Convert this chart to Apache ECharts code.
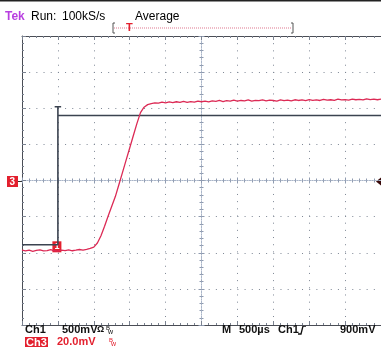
<!DOCTYPE html>
<html><head><meta charset="utf-8">
<script src="https://cdn.jsdelivr.net/npm/echarts@6/dist/echarts.min.js"></script>
<style>html,body{margin:0;padding:0;background:#fff}#c{width:381px;height:347px}</style>
</head><body><div id="c"></div>
<script>
// Time in microseconds relative to screen centre (500 us/div, 10 div)
const ch3Times = [-2500,-2450,-2400,-2350,-2300,-2250,-2200,-2150,-2100,-2050,-2000,-1950,-1900,-1850,-1800,-1750,-1700,-1650,-1600,-1550,-1500,-1450,-1400,-1350,-1300,-1250,-1200,-1150,-1100,-1050,-1000,-950,-900,-850,-800,-750,-700,-650,-600,-550,-500,-450,-400,-350,-300,-250,-200,-150,-100,-50,0,50,100,150,200,250,300,350,400,450,500,550,600,650,700,750,800,850,900,950,1000,1050,1100,1150,1200,1250,1300,1350,1400,1450,1500,1550,1600,1650,1700,1750,1800,1850,1900,1950,2000,2050,2100,2150,2200,2250,2300,2350,2400,2450,2500];
// Ch3 in mV (20 mV/div)
const ch3Values = [-38.5,-39.0,-38.6,-39.2,-38.7,-38.4,-39.0,-38.8,-38.3,-38.9,-39.1,-38.6,-38.8,-38.4,-38.9,-38.6,-38.2,-38.5,-38.1,-37.6,-36.9,-34.6,-30.6,-25.3,-19.7,-14.3,-8.9,-2.2,4.5,11.3,18.0,24.8,31.5,37.6,40.6,42.0,42.6,43.0,42.8,43.4,43.0,43.5,43.1,43.6,43.3,43.8,43.2,43.7,43.4,44.0,43.6,43.9,43.5,44.1,43.8,44.3,43.7,44.2,44.0,44.5,43.9,44.3,44.1,44.6,44.0,44.4,44.2,44.7,44.1,44.5,44.3,44.0,44.6,44.2,44.5,44.1,44.7,44.3,44.6,44.2,44.8,44.4,44.6,44.3,44.9,44.5,44.7,44.4,45.0,44.6,44.8,44.5,45.1,44.7,44.9,44.6,45.2,44.8,45.0,44.7,45.1];
// Ch1 in V (500 mV/div)
const ch1Times = [-2500,-2000,-2000,-2000,2500];
const ch1Values = [-0.89,-0.89,1.02,0.90,0.90];
const ch1CapTimes = [-2045,-1955];
const ch1CapValues = [1.02,1.02];

const headerTexts = ['Tek','Run:','100kS/s','Average'];
const footerRow1 = ['Ch1','500mV','Ω','M','500µs','Ch1','900mV'];
const footerRow2 = ['Ch3','20.0mV'];

const zip = (a,b)=>a.map((v,i)=>[v,b[i]]);
const chart = echarts.init(document.getElementById('c'), null, {renderer:'canvas'});
const dot = {color:'#7d8694', width:1, type:[1,6.18]};
const tickCol = '#7a8290';
function xAx(extra){return Object.assign({type:'value',min:-2500,max:2500,interval:500,gridIndex:0,
  axisLabel:{show:false},splitLine:{show:false},axisTick:{show:false},minorTick:{show:false},axisLine:{show:false}},extra);}
function yAx(extra){return Object.assign({type:'value',min:-80,max:80,interval:20,gridIndex:0,
  axisLabel:{show:false},splitLine:{show:false},axisTick:{show:false},minorTick:{show:false},axisLine:{show:false}},extra);}
const border = {show:true,onZero:false,lineStyle:{color:'#4a4d55',width:1}};
const centre = {show:true,onZero:true,onZeroAxisIndex:0,lineStyle:{color:'#a9b5c8',width:1,type:[1,1.5]}};

const F = '"Liberation Sans", Arial, sans-serif';
function txt(x,y,t,fill,font){return {type:'text',x:x,y:y,style:{text:t,fill:fill,font:font,verticalAlign:'middle'},z:100};}

const option = {
  animation:false,
  backgroundColor:'#fff',
  grid:{left:22,top:36,width:359,height:289,containLabel:false},
  xAxis:[
    xAx({position:'bottom',axisLine:border,axisTick:{show:true,inside:true,length:4,lineStyle:{color:tickCol}},minorTick:{show:true,splitNumber:5,length:2,lineStyle:{color:tickCol}},splitLine:{show:true,lineStyle:dot}}),
    xAx({position:'top',axisLine:border,axisTick:{show:true,inside:true,length:4,lineStyle:{color:tickCol}},minorTick:{show:true,splitNumber:5,length:2,lineStyle:{color:tickCol}}}),
    xAx({position:'bottom',axisLine:centre,axisTick:{show:true,inside:false,length:3,lineStyle:{color:'#8f9bb0'}},minorTick:{show:true,splitNumber:5,length:2,lineStyle:{color:'#8f9bb0'}}}),
    xAx({position:'bottom',axisLine:centre,axisTick:{show:true,inside:true,length:3,lineStyle:{color:'#8f9bb0'}},minorTick:{show:true,splitNumber:5,length:2,lineStyle:{color:'#8f9bb0'}}})
  ],
  yAxis:[
    yAx({position:'left',axisLine:border,axisTick:{show:true,inside:true,length:4,lineStyle:{color:tickCol}},minorTick:{show:true,splitNumber:5,length:2,lineStyle:{color:tickCol}},splitLine:{show:true,lineStyle:dot}}),
    yAx({min:-2,max:2,interval:0.5,show:false}),
    yAx({position:'left',axisLine:centre,axisTick:{show:true,inside:false,length:3,lineStyle:{color:'#8f9bb0'}},minorTick:{show:true,splitNumber:5,length:2,lineStyle:{color:'#8f9bb0'}}}),
    yAx({position:'left',axisLine:centre,axisTick:{show:true,inside:true,length:3,lineStyle:{color:'#8f9bb0'}},minorTick:{show:true,splitNumber:5,length:2,lineStyle:{color:'#8f9bb0'}}})
  ],
  series:[
    {name:'Ch1',type:'line',xAxisIndex:0,yAxisIndex:1,data:zip(ch1Times,ch1Values),showSymbol:false,silent:true,
      lineStyle:{color:'#3b4350',width:1.6},z:5,
      markPoint:{symbol:'rect',symbolSize:[9,11],symbolOffset:[-1,2],silent:true,
        itemStyle:{color:'#e3202e'},
        label:{show:true,formatter:'1',color:'#fff',fontSize:9,fontWeight:'bold',fontFamily:F},
        data:[{coord:[ch1Times[1],ch1Values[1]]}]}},
    {name:'Ch1cap',type:'line',xAxisIndex:0,yAxisIndex:1,data:zip(ch1CapTimes,ch1CapValues),showSymbol:false,silent:true,
      lineStyle:{color:'#3b4350',width:1.6},z:5},
    {name:'Ch3',type:'line',xAxisIndex:0,yAxisIndex:0,data:zip(ch3Times,ch3Values),showSymbol:false,silent:true,
      lineStyle:{color:'#dc2a55',width:1.3},z:6}
  ],
  graphic:[
    {type:'rect',shape:{x:0,y:0,width:381,height:1.5},style:{fill:'#222'}},
    txt(5,17,headerTexts[0],'#b83fe0','bold 12px '+F),
    txt(31,17,headerTexts[1],'#000','12px '+F),
    txt(62,17,headerTexts[2],'#000','12px '+F),
    txt(135,17,headerTexts[3],'#000','12px '+F),
    // record bracket
    {type:'line',shape:{x1:114,y1:28,x2:292,y2:28},style:{stroke:'#e07890',lineWidth:1,lineDash:[1,1]}},
    {type:'polyline',shape:{points:[[115,23],[113,23],[113,33],[115,33]]},style:{stroke:'#555',lineWidth:1,fill:null}},
    {type:'polyline',shape:{points:[[291,23],[293,23],[293,33],[291,33]]},style:{stroke:'#555',lineWidth:1,fill:null}},
    txt(126,28,'T','#e3202e','bold 11px '+F),
    // left Ch3 ground marker
    {type:'rect',shape:{x:7,y:176,width:11,height:11},style:{fill:'#e3202e'}},
    txt(9.5,182,'3','#fff','bold 10px '+F),
    {type:'line',shape:{x1:18,y1:181.5,x2:22,y2:181.5},style:{stroke:'#333',lineWidth:1}},
    // right trigger arrow
    {type:'polygon',shape:{points:[[376,181.5],[381,177.5],[381,185.5]]},style:{fill:'#3a0a0a'}},
    // footer
    txt(25,330,footerRow1[0],'#111','bold 11px '+F),
    txt(62,330,footerRow1[1],'#111','bold 11px '+F),
    txt(97,330,footerRow1[2],'#111','bold 9px '+F),
    txt(106,328,'B','#111','6px '+F),
    txt(108,332,'w','#111','7px '+F),
    txt(222,330,footerRow1[3],'#111','bold 11px '+F),
    txt(239,330,footerRow1[4],'#111','bold 11px '+F),
    txt(278,330,footerRow1[5],'#111','bold 11px '+F),
    {type:'polyline',shape:{points:[[298,334],[301,334],[303,326],[306,326]]},style:{stroke:'#111',lineWidth:1.3,fill:null}},
    txt(340,330,footerRow1[6],'#111','bold 11px '+F),
    {type:'rect',shape:{x:25,y:337,width:23,height:10},style:{fill:'#e3202e'}},
    txt(26,342.5,footerRow2[0],'#fff','bold 11px '+F),
    txt(57,342,footerRow2[1],'#e3202e','bold 11px '+F),
    txt(109,340,'B','#e3202e','6px '+F),
    txt(111,344,'w','#e3202e','7px '+F)
  ]
};
chart.setOption(option);
</script></body></html>
